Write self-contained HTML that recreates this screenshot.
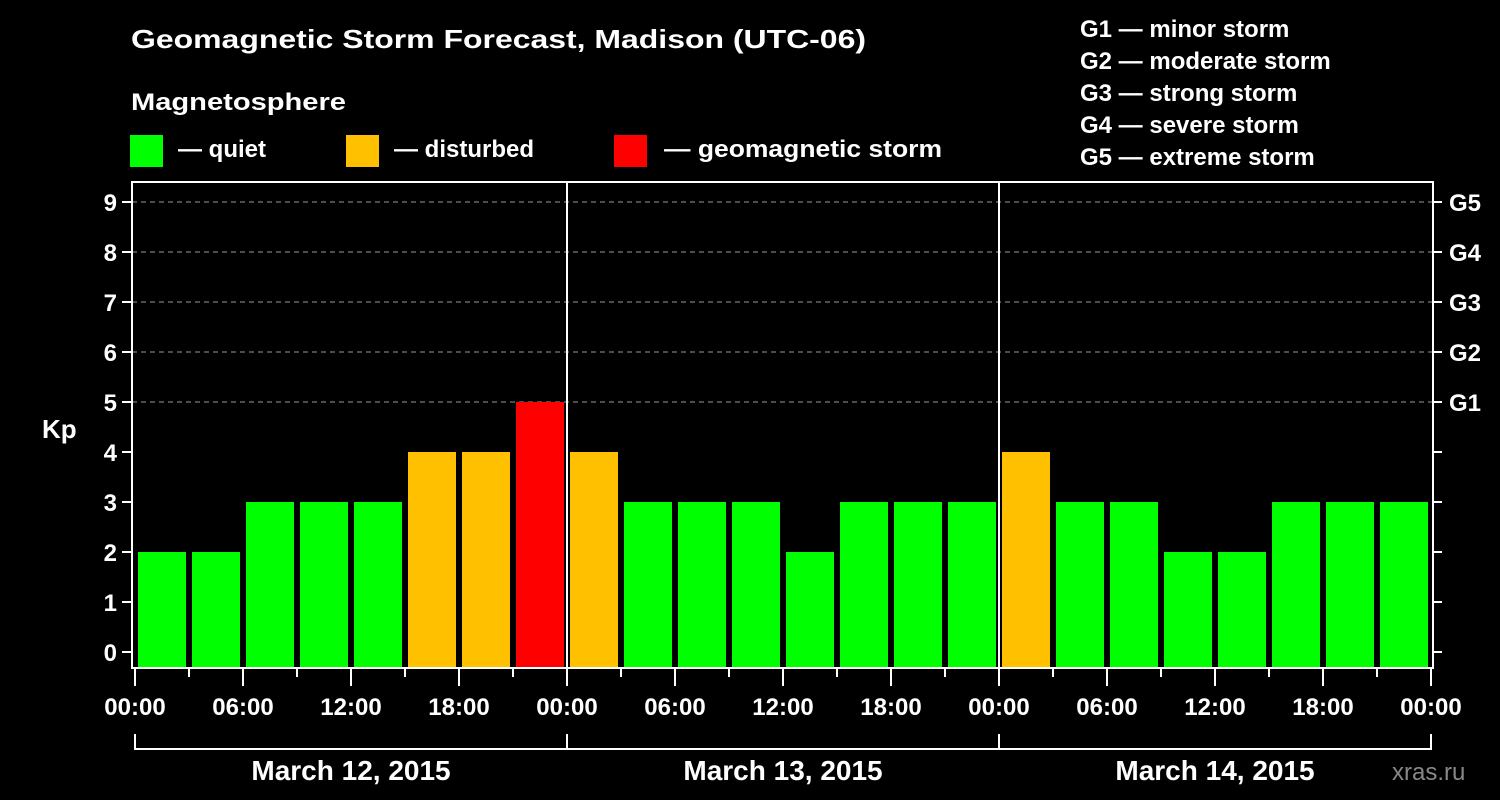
<!DOCTYPE html>
<html><head><meta charset="utf-8"><style>
html,body{margin:0;padding:0;background:#000;}
svg{display:block;font-family:"Liberation Sans",Arial,sans-serif;font-weight:bold;}
</style></head><body>
<svg id="chart" width="1500" height="800" viewBox="0 0 1500 800">
<rect width="1500" height="800" fill="#000"/>
<text x="131" y="48" fill="#fff" font-size="26" textLength="735" lengthAdjust="spacingAndGlyphs">Geomagnetic Storm Forecast, Madison (UTC-06)</text>
<text x="131" y="110" fill="#fff" font-size="24" textLength="215" lengthAdjust="spacingAndGlyphs">Magnetosphere</text>
<g><rect x="130" y="135" width="33" height="32" fill="#00ff00"/><text x="178" y="157" fill="#fff" font-size="24">— quiet</text></g>
<g><rect x="346" y="135" width="33" height="32" fill="#ffc000"/><text x="394" y="157" fill="#fff" font-size="24">— disturbed</text></g>
<g><rect x="614" y="135" width="33" height="32" fill="#ff0000"/><text x="664" y="157" fill="#fff" font-size="24" textLength="278" lengthAdjust="spacingAndGlyphs">— geomagnetic storm</text></g>
<g fill="#fff" font-size="24">
<text x="1080" y="37">G1 — minor storm</text>
<text x="1080" y="69">G2 — moderate storm</text>
<text x="1080" y="101">G3 — strong storm</text>
<text x="1080" y="133">G4 — severe storm</text>
<text x="1080" y="165">G5 — extreme storm</text>
</g>
<text x="42" y="438" fill="#fff" font-size="26">Kp</text>
<g id="grid"></g>
<g id="bars"></g>
<g id="axes"></g>
<text x="1392" y="780" fill="#888" font-size="24" font-weight="normal">xras.ru</text>
</svg>
<script>
const kpValues = [2,2,3,3,3,4,4,5, 4,3,3,3,2,3,3,3, 4,3,3,2,2,3,3,3];
const dayLabels = ["March 12, 2015","March 13, 2015","March 14, 2015"];
const hourLabels = ["00:00","06:00","12:00","18:00"];
const gLabels = ["G1","G2","G3","G4","G5"];
const yTicks = [0,1,2,3,4,5,6,7,8,9];

const NS="http://www.w3.org/2000/svg";
const X0=135, SLOT=54, plotTop=182, plotBottom=668, plotLeft=132, plotRight=1433;
const y = v => 652 - 50*v;
const x = i => X0 + SLOT*i;
function mk(tag, attrs, parent, txt){const e=document.createElementNS(NS,tag);for(const k in attrs)e.setAttribute(k,attrs[k]);if(txt!==undefined)e.textContent=txt;parent.appendChild(e);return e;}
const grid=document.getElementById('grid'), bars=document.getElementById('bars'), axes=document.getElementById('axes');

gLabels.forEach((g,k)=>{
  const l=mk('line',{x1:plotLeft,x2:plotRight,y1:y(5+k),y2:y(5+k),stroke:'#999','stroke-width':1,'stroke-dasharray':'5,4'},grid);
  
  
});

kpValues.forEach((v,i)=>{
  const c = v>=5?'#ff0000':(v>=4?'#ffc000':'#00ff00');
  const r=mk('rect',{x:x(i)+3,y:y(v),width:48,height:plotBottom-y(v),fill:c},bars);
  
  
});

// frame
const fr=mk('rect',{x:plotLeft,y:plotTop,width:plotRight-plotLeft,height:plotBottom-plotTop,fill:'none',stroke:'#fff','stroke-width':2},axes);


for(let d=1; d<dayLabels.length; d++){
  const l=mk('line',{x1:x(8*d),x2:x(8*d),y1:plotTop,y2:plotBottom,stroke:'#fff','stroke-width':2},axes);
  
  
}
yTicks.forEach(t=>{
  mk('line',{x1:122,x2:plotLeft,y1:y(t),y2:y(t),stroke:'#fff','stroke-width':2},axes);
  mk('line',{x1:plotRight,x2:1442,y1:y(t),y2:y(t),stroke:'#fff','stroke-width':2},axes);
  const tx=mk('text',{x:117,y:y(t)+9,fill:'#fff','font-size':24,'text-anchor':'end'},axes,String(t));
  
  
});
gLabels.forEach((g,k)=>{
  const tx=mk('text',{x:1449,y:y(5+k)+9,fill:'#fff','font-size':24},axes,g);
  
  
});
for(let i=0;i<=kpValues.length;i++){
  const major = i%2===0;
  mk('line',{x1:x(i),x2:x(i),y1:plotBottom,y2:major?686:677,stroke:'#fff','stroke-width':2},axes);
  if(major){
    const tx=mk('text',{x:x(i),y:715,fill:'#fff','font-size':24,'text-anchor':'middle'},axes,hourLabels[(i/2)%4]);
    
    
  }
}
// day bracket
mk('line',{x1:x(0),x2:x(kpValues.length),y1:749,y2:749,stroke:'#fff','stroke-width':2},axes);
for(let d=0; d<=dayLabels.length; d++){
  mk('line',{x1:x(8*d),x2:x(8*d),y1:734,y2:750,stroke:'#fff','stroke-width':2},axes);
}
dayLabels.forEach((lab,d)=>{
  const tx=mk('text',{x:x(8*d+4),y:780,fill:'#fff','font-size':28,'text-anchor':'middle'},axes,lab);
  
  
});
</script>
</body></html>
